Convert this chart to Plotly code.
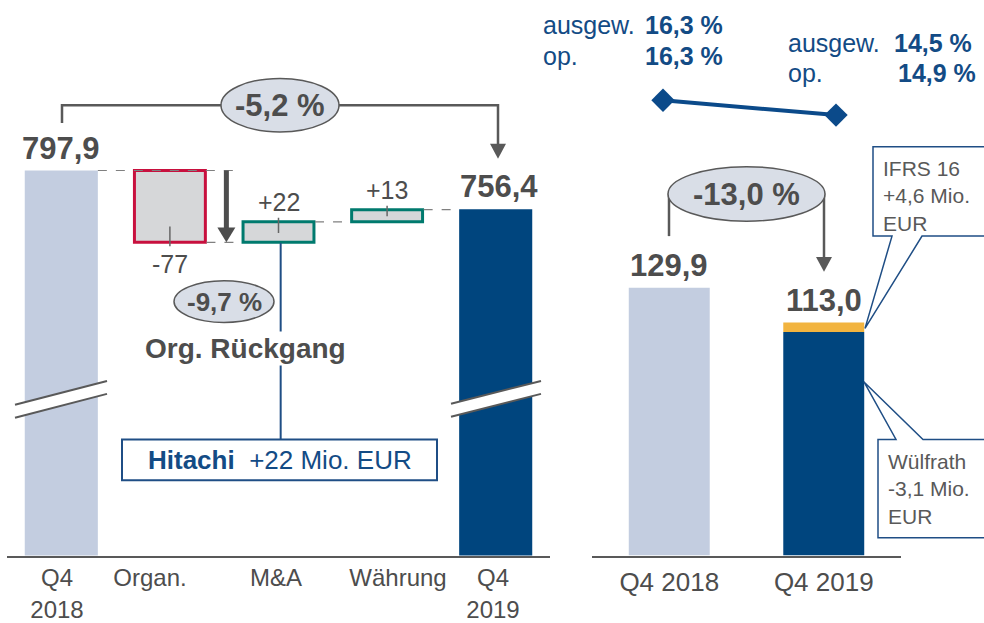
import plotly.graph_objects as go

# ---------------- data ----------------
left_categories = ["Q4<br>2018", "Organ.", "M&A", "Währung", "Q4<br>2019"]
sales_q4_2018 = 797.9
sales_q4_2019 = 756.4
bridge_deltas = [-77, 22, 13]          # Organ., M&A, Währung

right_categories = ["Q4 2018", "Q4 2019"]
ebitda_q4_2018 = 129.9
ebitda_q4_2019 = 113.0
ifrs16_effect = 4.6
wuelfrath_effect = -3.1
hitachi_effect = 22
margin_reported = [16.3, 14.5]   # ausgew.
margin_operative = [16.3, 14.9]  # op.

# ---------------- style / layout constants ----------------
W, H = 984, 623
VS = 1.005          # small vertical correction of the rendering
FONT = "Liberation Sans, Arial, Helvetica, sans-serif"
GRAY_TXT = "#4D4D4D"
LINE_GRAY = "#595959"
LIGHT = "#C3CDE0"
NAVY = "#00457E"
YELLOW = "#F2B43F"
BOXFILL = "#D6D7D9"
RED = "#C8103E"
TEAL = "#007A6E"
ELL_FILL = "#D9DEE7"
BLUE_TXT = "#134B85"
CALLOUT = "#1F4E85"

BASE_PX, TOP_PX = 560, 20
L_X0, L_X1 = 7, 550
R_X0, R_X1 = 592, 901
L_YMIN, L_PPU = 385.0, 0.94
R_PPU = 270 / 129.9
M_PPU = 15 / 1.8
L_UNIT = (L_X1 - L_X0) / 5
R_UNIT = (R_X1 - R_X0) / 2
LEFT_LABEL_PX = [57, 150, 276, 398, 493]      # label centres (pixels)
MARGIN_LINE_PX = (663, 836)                    # x of the two margin markers


def fx(p):
    return p / W


def fy(p):
    return 1 - p * VS / H


def de(v):
    return f"{v:.1f}".replace(".", ",")


def sgn(v):
    return f"{v:+d}" if isinstance(v, int) else f"{v:+.1f}".replace(".", ",")


LW = 0.673
RW = 0.524

fig = go.Figure()

# ---------- left waterfall ----------
lx = list(range(len(left_categories)))
fig.add_trace(go.Bar(x=[lx[0]], y=[sales_q4_2018], width=LW, marker=dict(color=LIGHT, line=dict(width=0)),
                     xaxis="x", yaxis="y"))
fig.add_trace(go.Bar(x=[lx[-1]], y=[sales_q4_2019], width=LW, marker=dict(color=NAVY, line=dict(width=0)),
                     xaxis="x", yaxis="y"))
cum = sales_q4_2018
bridge_bounds = []
for i, d in enumerate(bridge_deltas, start=1):
    fig.add_trace(go.Bar(x=[i], y=[d], base=[cum], width=LW - 0.02,
                         marker=dict(color=BOXFILL, line=dict(color=RED if d < 0 else TEAL, width=3)),
                         xaxis="x", yaxis="y"))
    bridge_bounds.append((i, cum, cum + d))
    cum += d

# ---------- right chart ----------
rx = list(range(len(right_categories)))
fig.add_trace(go.Bar(x=[rx[0]], y=[ebitda_q4_2018], width=RW, marker=dict(color=LIGHT, line=dict(width=0)),
                     xaxis="x2", yaxis="y2"))
fig.add_trace(go.Bar(x=[rx[1]], y=[ebitda_q4_2019 - ifrs16_effect], width=RW,
                     marker=dict(color=NAVY, line=dict(width=0)), xaxis="x2", yaxis="y2"))
fig.add_trace(go.Bar(x=[rx[1]], y=[ifrs16_effect], base=[ebitda_q4_2019 - ifrs16_effect], width=RW,
                     marker=dict(color=YELLOW, line=dict(width=0)), xaxis="x2", yaxis="y2"))
fig.add_trace(go.Scatter(x=rx, y=margin_reported, mode="lines+markers",
                         line=dict(color="#0B4A8A", width=4),
                         marker=dict(symbol="diamond", size=18, color="#0B4A8A"),
                         xaxis="x3", yaxis="y3", cliponaxis=False))

shapes = []
ann = []

# break marks (paper px)
for (x0, y0, x1, y1) in [(15, 408, 107, 384), (451, 407, 541, 384)]:
    gap = 13
    shapes.append(dict(type="path", xref="paper", yref="paper",
                       path=f"M {fx(x0)},{fy(y0)} L {fx(x1)},{fy(y1)} L {fx(x1)},{fy(y1+gap)} L {fx(x0)},{fy(y0+gap)} Z",
                       fillcolor="white", line=dict(width=0)))
    for g in (0, gap):
        shapes.append(dict(type="line", xref="paper", yref="paper", x0=fx(x0), y0=fy(y0 + g), x1=fx(x1), y1=fy(y1 + g),
                           line=dict(color=LINE_GRAY, width=2)))

# dashed connectors (data)
dash = dict(color="#808080", width=1.2, dash="dash")
shapes.append(dict(type="line", xref="x", yref="y", x0=LW / 2, x1=1.6, y0=sales_q4_2018, y1=sales_q4_2018, line=dash))
for (i, a, b) in bridge_bounds:
    shapes.append(dict(type="line", xref="x", yref="y", x0=i + LW / 2, x1=i + 1 - LW / 2, y0=b, y1=b, line=dash))

# small ticks in boxes
for (i, a, b) in bridge_bounds:
    d = b - a
    inside = min(16, 0.55 * abs(d) * L_PPU) / L_PPU
    outside = 4 / L_PPU
    s = 1 if d > 0 else -1
    shapes.append(dict(type="line", xref="x", yref="y", x0=i, x1=i, y0=b - s * inside, y1=b + s * outside,
                       line=dict(color="#666666", width=1.5)))

# organic down arrow (data)
ax_ = 1.52
head = 15 / L_PPU
hw = 9 / L_UNIT
org_end = sales_q4_2018 + bridge_deltas[0]
shapes.append(dict(type="line", xref="x", yref="y", x0=ax_, x1=ax_, y0=sales_q4_2018, y1=org_end + head * 0.9,
                   line=dict(color=GRAY_TXT, width=5)))
shapes.append(dict(type="path", xref="x", yref="y",
                   path=f"M {ax_-hw},{org_end+head} L {ax_+hw},{org_end+head} L {ax_},{org_end} Z",
                   fillcolor=GRAY_TXT, line=dict(width=0)))

# -5,2 % bracket
shapes.append(dict(type="path", xref="paper", yref="paper",
                   path=f"M {fx(62)},{fy(124)} L {fx(62)},{fy(106)} L {fx(498)},{fy(106)} L {fx(498)},{fy(148)}",
                   line=dict(color=LINE_GRAY, width=2.5)))
shapes.append(dict(type="path", xref="paper", yref="paper",
                   path=f"M {fx(490)},{fy(145)} L {fx(506)},{fy(145)} L {fx(498)},{fy(160)} Z",
                   fillcolor=LINE_GRAY, line=dict(width=0)))
shapes.append(dict(type="circle", xref="paper", yref="paper", x0=fx(221), x1=fx(339), y0=fy(79), y1=fy(133),
                   fillcolor=ELL_FILL, line=dict(color=LINE_GRAY, width=1.5)))

# -9,7 % ellipse
shapes.append(dict(type="circle", xref="paper", yref="paper", x0=fx(174), x1=fx(274), y0=fy(283), y1=fy(325),
                   fillcolor=ELL_FILL, line=dict(color=LINE_GRAY, width=1.5)))

# Hitachi connector and box
shapes.append(dict(type="line", xref="x", yref="paper", x0=2.02, x1=2.02, y0=fy(245), y1=fy(443),
                   line=dict(color=CALLOUT, width=2)))
shapes.append(dict(type="rect", xref="paper", yref="paper", x0=fx(122), x1=fx(437), y0=fy(443), y1=fy(484),
                   fillcolor="white", line=dict(color=CALLOUT, width=2)))

# -13,0 % bracket
shapes.append(dict(type="line", xref="paper", yref="paper", x0=fx(669), x1=fx(669), y0=fy(238), y1=fy(195),
                   line=dict(color=LINE_GRAY, width=2.5)))
shapes.append(dict(type="line", xref="paper", yref="paper", x0=fx(824), x1=fx(824), y0=fy(195), y1=fy(261),
                   line=dict(color=LINE_GRAY, width=2.5)))
shapes.append(dict(type="path", xref="paper", yref="paper",
                   path=f"M {fx(816)},{fy(259)} L {fx(832)},{fy(259)} L {fx(824)},{fy(274)} Z",
                   fillcolor=LINE_GRAY, line=dict(width=0)))
shapes.append(dict(type="circle", xref="paper", yref="paper", x0=fx(668), x1=fx(825), y0=fy(168), y1=fy(223),
                   fillcolor=ELL_FILL, line=dict(color=LINE_GRAY, width=1.5)))

# IFRS 16 callout
pts = [(873, 148), (990, 148), (990, 238), (922, 238), (865, 331), (892, 238), (873, 238)]
shapes.append(dict(type="path", xref="paper", yref="paper",
                   path="M " + " L ".join(f"{fx(a)},{fy(b)}" for a, b in pts) + " Z",
                   fillcolor="white", line=dict(color=CALLOUT, width=1.5)))
# Wülfrath callout
pts = [(878, 443), (896, 443), (864, 385), (923, 443), (990, 443), (990, 542), (878, 542)]
shapes.append(dict(type="path", xref="paper", yref="paper",
                   path="M " + " L ".join(f"{fx(a)},{fy(b)}" for a, b in pts) + " Z",
                   fillcolor="white", line=dict(color=CALLOUT, width=1.5)))


def A(text, x, y, size, color=GRAY_TXT, xanchor="center", yanchor="middle", xref="paper", yref="paper",
      yshift=0, align="center", bgcolor=None):
    d = dict(text=text, x=x, y=y, xref=xref, yref=yref, showarrow=False, xanchor=xanchor, yanchor=yanchor,
             yshift=yshift, align=align, font=dict(family=FONT, size=size, color=color))
    if bgcolor:
        d["bgcolor"] = bgcolor
    ann.append(d)


# value labels
A(f"<b>{de(sales_q4_2018)}</b>", 0, sales_q4_2018, 31, xref="x", yref="y", yshift=22)
A(f"<b>{de(sales_q4_2019)}</b>", 4.03, sales_q4_2019, 31, xref="x", yref="y", yshift=23)
for (i, a, b), d in zip(bridge_bounds, bridge_deltas):
    A(sgn(d), i, b, 25, xref="x", yref="y", yshift=20 if d > 0 else -22)
A(f"<b>{de(ebitda_q4_2018)}</b>", 0, ebitda_q4_2018, 31, xref="x2", yref="y2", yshift=22)
A(f"<b>{de(ebitda_q4_2019)}</b>", 1, ebitda_q4_2019, 31, xref="x2", yref="y2", yshift=22)

# percentage ellipses
A(f"<b>{de((sales_q4_2019 / sales_q4_2018 - 1) * 100)} %</b>", fx(280), fy(106), 31)
A(f"<b>{de(bridge_deltas[0] / sales_q4_2018 * 100)} %</b>", fx(224), fy(304), 26)
A(f"<b>{de((ebitda_q4_2019 / ebitda_q4_2018 - 1) * 100)} %</b>", fx(746.5), fy(196), 31)

A("<b>Org. Rückgang</b>", fx(245), fy(351), 28, bgcolor="white")
A(f"<b>Hitachi</b>  {hitachi_effect:+d} Mio. EUR", fx(280), fy(464), 26, color=BLUE_TXT)

A(f"IFRS 16<br>{sgn(ifrs16_effect)} Mio.<br>EUR", fx(881), fy(197.5), 21, xanchor="left", align="left", color="#595959")
A(f"Wülfrath<br>{sgn(wuelfrath_effect)} Mio.<br>EUR", fx(886), fy(492.5), 21, xanchor="left", align="left",
  color="#595959")

# margins text
def pct(v):
    return f"<b>{de(v)} %</b>"


A("ausgew.", fx(541), fy(25), 25, color=BLUE_TXT, xanchor="left")
A(pct(margin_reported[0]), fx(725), fy(25), 25, color=BLUE_TXT, xanchor="right")
A("op.", fx(541), fy(56), 25, color=BLUE_TXT, xanchor="left")
A(pct(margin_operative[0]), fx(725), fy(56), 25, color=BLUE_TXT, xanchor="right")
A("ausgew.", fx(786), fy(43), 25, color=BLUE_TXT, xanchor="left")
A(pct(margin_reported[1]), fx(974), fy(43), 25, color=BLUE_TXT, xanchor="right")
A("op.", fx(786), fy(74), 25, color=BLUE_TXT, xanchor="left")
A(pct(margin_operative[1]), fx(978), fy(74), 25, color=BLUE_TXT, xanchor="right")

ydom = [fy(BASE_PX), fy(TOP_PX)]
span = BASE_PX - TOP_PX
m_at_base = margin_reported[0] - (BASE_PX - 101) / M_PPU
left_tickpos = [(p - L_X0) / L_UNIT - 0.5 for p in LEFT_LABEL_PX]
m_unit = MARGIN_LINE_PX[1] - MARGIN_LINE_PX[0]
x3_range = [(R_X0 - MARGIN_LINE_PX[0]) / m_unit, (R_X1 - MARGIN_LINE_PX[0]) / m_unit]

fig.update_layout(
    width=W, height=H, autosize=False, margin=dict(l=0, r=0, t=0, b=0, pad=0),
    paper_bgcolor="white", plot_bgcolor="white",
    showlegend=False, barmode="overlay", hovermode=False,
    font=dict(family=FONT, color=GRAY_TXT),
    xaxis=dict(domain=[fx(L_X0), fx(L_X1)], anchor="y", range=[-0.5, 4.5], tickvals=left_tickpos,
               ticktext=left_categories,
               showline=True, linecolor=LINE_GRAY, linewidth=2, ticks="", showgrid=False, zeroline=False,
               ticklabelstandoff=0,
               tickfont=dict(family=FONT, size=24, color=GRAY_TXT)),
    yaxis=dict(domain=ydom, range=[L_YMIN, L_YMIN + span / L_PPU], visible=False, anchor="x"),
    xaxis2=dict(domain=[fx(R_X0), fx(R_X1)], anchor="y2", range=[-0.5, 1.5], tickvals=rx,
                ticktext=right_categories, showline=True, linecolor=LINE_GRAY, linewidth=2, ticks="",
                ticklabelstandoff=2,
                showgrid=False, zeroline=False, tickfont=dict(family=FONT, size=26, color=GRAY_TXT)),
    xaxis3=dict(domain=[fx(R_X0), fx(R_X1)], overlaying="x2", anchor="y3", range=x3_range, visible=False),
    yaxis2=dict(domain=ydom, range=[0, span / R_PPU], visible=False, anchor="x2"),
    yaxis3=dict(overlaying="y2", anchor="x3", range=[m_at_base, m_at_base + span / M_PPU], visible=False),
    shapes=shapes, annotations=ann,
)

post = (
    "document.documentElement.style.margin='0';document.documentElement.style.padding='0';"
    "document.documentElement.style.overflow='hidden';"
    "document.body.style.margin='0';document.body.style.padding='0';document.body.style.overflow='hidden';"
)
fig.write_html("out.html", config={"displayModeBar": False, "responsive": False}, post_script=post)
